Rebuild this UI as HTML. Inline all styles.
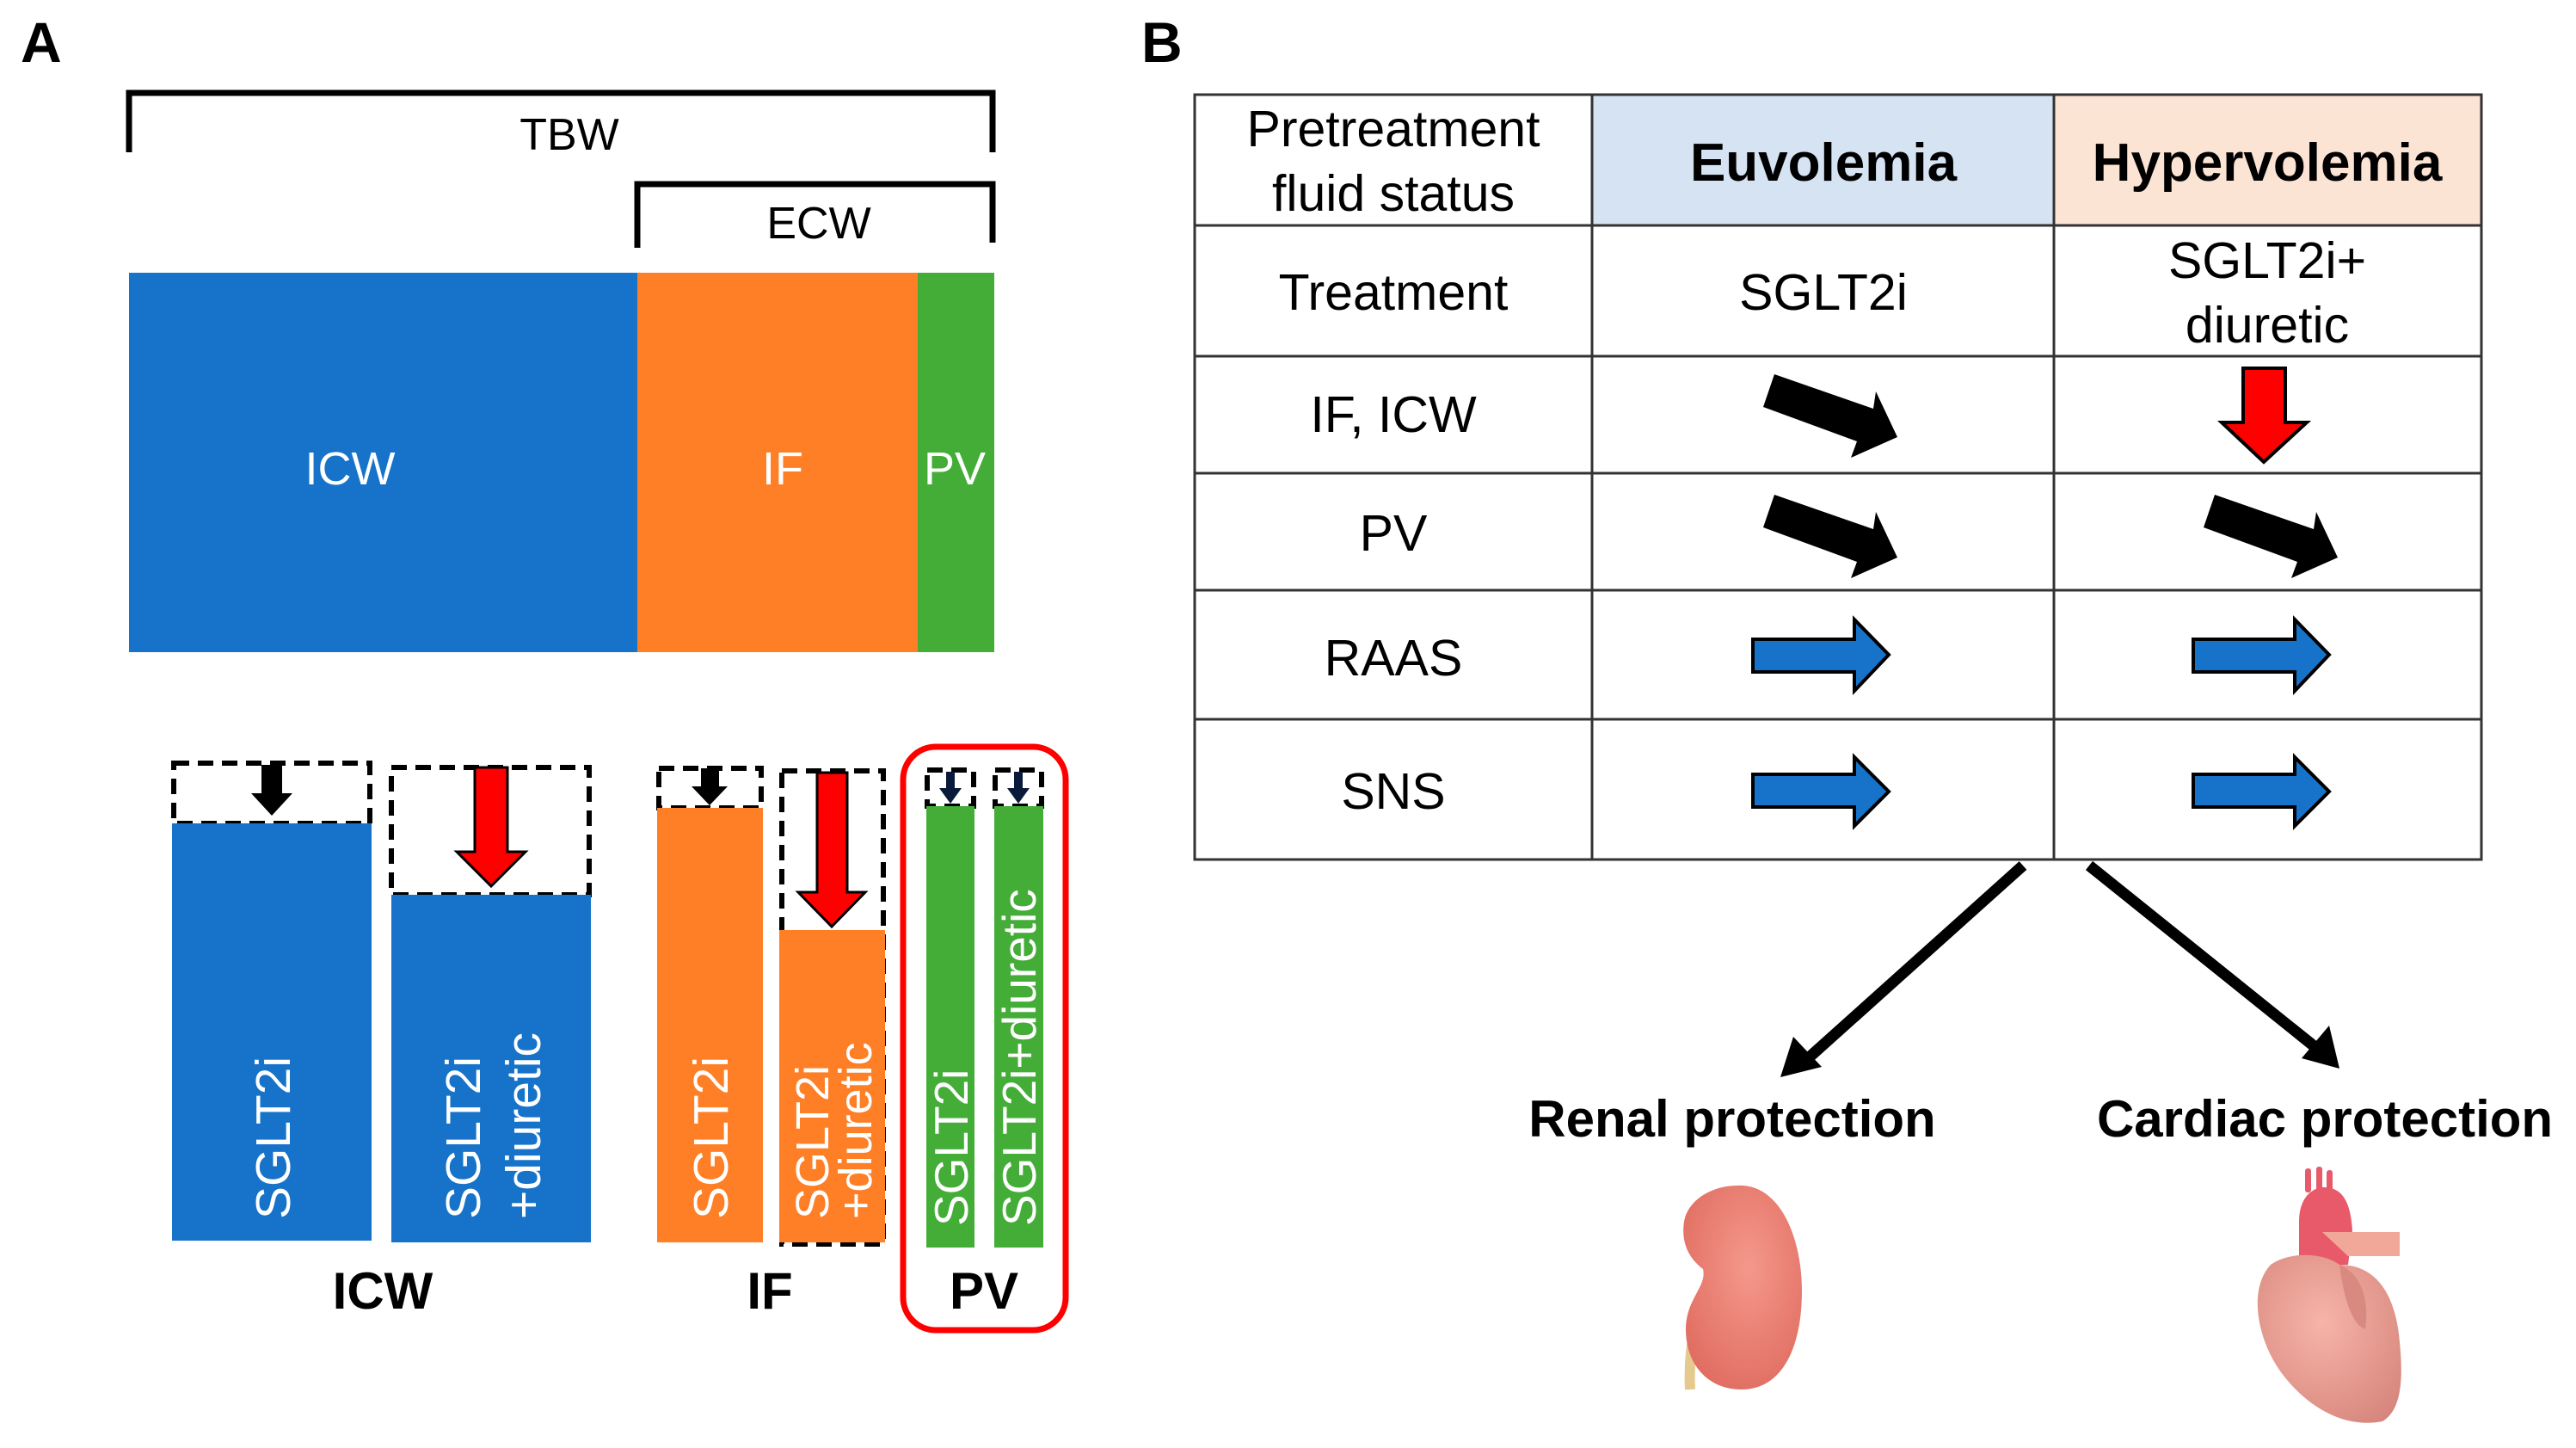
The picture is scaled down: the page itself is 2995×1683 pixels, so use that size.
<!DOCTYPE html>
<html><head><meta charset="utf-8"><style>
html,body{margin:0;padding:0;background:#fff;}
svg{display:block;}
text{font-family:"Liberation Sans",Arial,sans-serif;}
</style></head><body>
<svg width="2995" height="1683" viewBox="0 0 2995 1683" xmlns="http://www.w3.org/2000/svg">
<rect width="2995" height="1683" fill="#fff"/>
<!-- Panel A -->
<text x="24" y="72" font-size="66" font-weight="bold">A</text>
<path d="M150 177 V108 H1154 V177" fill="none" stroke="#000" stroke-width="7"/>
<text x="662" y="174" font-size="52" text-anchor="middle">TBW</text>
<path d="M741 288 V214 H1154 V282" fill="none" stroke="#000" stroke-width="7"/>
<text x="952" y="277" font-size="52" text-anchor="middle">ECW</text>
<rect x="150" y="317" width="591" height="441" fill="#1673c9"/>
<rect x="741" y="317" width="326" height="441" fill="#fe7f26"/>
<rect x="1067" y="317" width="89" height="441" fill="#44ad38"/>
<text x="407" y="563" font-size="54" fill="#fff" text-anchor="middle">ICW</text>
<text x="910" y="563" font-size="54" fill="#fff" text-anchor="middle">IF</text>
<text x="1110" y="563" font-size="54" fill="#fff" text-anchor="middle">PV</text>

<!-- bottom bars -->
<g fill="none" stroke="#000" stroke-width="6" stroke-dasharray="18 10">
<rect x="202" y="887" width="228" height="70"/>
<rect x="455" y="892" width="230" height="148"/>
<rect x="766" y="893" width="119" height="46"/>
<rect x="909" y="896" width="118" height="550"/>
<rect x="1078" y="895" width="54" height="42"/>
<rect x="1157" y="895" width="54" height="42"/>
</g>
<rect x="200" y="957" width="232" height="485" fill="#1673c9"/>
<rect x="455" y="1040" width="232" height="404" fill="#1673c9"/>
<rect x="764" y="939" width="123" height="505" fill="#fe7f26"/>
<rect x="906" y="1081" width="123" height="363" fill="#fe7f26"/>
<rect x="1077" y="937" width="56" height="513" fill="#44ad38"/>
<rect x="1156" y="937" width="57" height="513" fill="#44ad38"/>
<!-- arrows in boxes -->
<polygon points="304,889 328,889 328,922 340,922 316,948 292,922 304,922" fill="#000"/>
<polygon points="552,892 590,892 590,990 611,990 571,1030 531,990 552,990" fill="#f00" stroke="#000" stroke-width="3"/>
<polygon points="815,893 836,893 836,914 846,914 825,936 804,914 815,914" fill="#000"/>
<polygon points="950,898 985,898 985,1037 1006,1037 967,1077 928,1037 950,1037" fill="#f00" stroke="#000" stroke-width="3"/>
<polygon points="1100,897 1110,897 1110,916 1118,916 1105,934 1092,916 1100,916" fill="#0a1a3a"/>
<polygon points="1179,897 1189,897 1189,916 1197,916 1184,934 1171,916 1179,916" fill="#0a1a3a"/>
<!-- vertical labels -->
<g fill="#fff" font-size="57">
<text transform="translate(337,1417) rotate(-90)">SGLT2i</text>
<text transform="translate(558,1417) rotate(-90)">SGLT2i</text>
<text transform="translate(628,1417) rotate(-90)">+diuretic</text>
<text transform="translate(846,1417) rotate(-90)">SGLT2i</text>
<text transform="translate(963,1417) rotate(-90)" font-size="54">SGLT2i</text>
<text transform="translate(1013,1417) rotate(-90)" font-size="54">+diuretic</text>
<text transform="translate(1125,1425) rotate(-90)" font-size="55">SGLT2i</text>
<text transform="translate(1204,1425) rotate(-90)" font-size="55">SGLT2i+diuretic</text>
</g>
<rect x="1050" y="868" width="189" height="678" rx="38" fill="none" stroke="#f00" stroke-width="7"/>
<g font-size="60" font-weight="bold" text-anchor="middle">
<text x="445" y="1521">ICW</text>
<text x="895" y="1521">IF</text>
<text x="1144" y="1521">PV</text>
</g>

<!-- Panel B -->
<text x="1327" y="72" font-size="66" font-weight="bold">B</text>
<rect x="1851" y="110" width="537" height="152" fill="#d6e3f3"/>
<rect x="2388" y="110" width="497" height="152" fill="#fce4d4"/>
<g stroke="#333" stroke-width="3" fill="none">
<rect x="1389" y="110" width="1496" height="889"/>
<line x1="1851" y1="110" x2="1851" y2="999"/>
<line x1="2388" y1="110" x2="2388" y2="999"/>
<line x1="1389" y1="262" x2="2885" y2="262"/>
<line x1="1389" y1="414" x2="2885" y2="414"/>
<line x1="1389" y1="550" x2="2885" y2="550"/>
<line x1="1389" y1="686" x2="2885" y2="686"/>
<line x1="1389" y1="836" x2="2885" y2="836"/>
</g>
<g font-size="59" text-anchor="middle">
<text x="1620" y="170">Pretreatment</text>
<text x="1620" y="245">fluid status</text>
<text x="1620" y="360">Treatment</text>
<text x="2120" y="360">SGLT2i</text>
<text x="2636" y="323">SGLT2i+</text>
<text x="2636" y="398">diuretic</text>
<text x="1620" y="502">IF, ICW</text>
<text x="1620" y="640">PV</text>
<text x="1620" y="785">RAAS</text>
<text x="1620" y="940">SNS</text>
</g>
<g font-size="62" font-weight="bold" text-anchor="middle">
<text x="2120" y="210">Euvolemia</text>
<text x="2636" y="210">Hypervolemia</text>
</g>
<!-- diagonal black arrows -->
<polygon points="2063,435 2178,475 2181,455 2206,508 2152,532 2159,513 2050,473" fill="#000"/>
<polygon points="2063,575 2178,615 2181,595 2206,648 2152,672 2159,653 2050,613" fill="#000"/>
<polygon points="2575,575 2690,615 2693,595 2718,648 2664,672 2671,653 2562,613" fill="#000"/>
<!-- red down -->
<polygon points="2608,428 2657,428 2657,491 2682,491 2632,537 2583,491 2608,491" fill="#f00" stroke="#000" stroke-width="4"/>
<!-- blue right arrows -->
<g fill="#1673c9" stroke="#000" stroke-width="4">
<polygon points="2038,743 2156,743 2156,720 2196,761 2156,803 2156,781 2038,781"/>
<polygon points="2550,743 2668,743 2668,720 2708,761 2668,803 2668,781 2550,781"/>
<polygon points="2038,900 2156,900 2156,880 2196,920 2156,960 2156,938 2038,938"/>
<polygon points="2550,900 2668,900 2668,880 2708,920 2668,960 2668,938 2550,938"/>
</g>
<!-- connectors -->
<line x1="2352" y1="1006" x2="2100" y2="1232" stroke="#000" stroke-width="13"/>
<polygon points="2070,1252 2085,1205 2118,1240" fill="#000"/>
<line x1="2429" y1="1006" x2="2698" y2="1222" stroke="#000" stroke-width="13"/>
<polygon points="2720,1242 2676,1230 2708,1192" fill="#000"/>
<g font-size="60" font-weight="bold" text-anchor="middle">
<text x="2014" y="1321">Renal protection</text>
<text x="2703" y="1321">Cardiac protection</text>
</g>
<defs>
<radialGradient id="kg" cx="0.55" cy="0.4" r="0.7"><stop offset="0" stop-color="#f5988c"/><stop offset="1" stop-color="#df6a5e"/></radialGradient>
<radialGradient id="hg" cx="0.45" cy="0.4" r="0.75"><stop offset="0" stop-color="#f7b4a8"/><stop offset="1" stop-color="#d5847a"/></radialGradient>
</defs>
<!-- kidney -->
<path d="M1990 1485 C1975 1520,1962 1560,1965 1615" stroke="#e6c98e" stroke-width="12" fill="none"/>
<path d="M2020 1378 C2070 1375,2095 1440,2095 1500 C2095 1570,2070 1615,2025 1615 C1985 1615,1960 1585,1960 1545 C1960 1510,1985 1495,1980 1475 C1960 1460,1955 1440,1958 1420 C1962 1395,1990 1378,2020 1378 Z" fill="url(#kg)"/>
<!-- heart -->
<rect x="2680" y="1358" width="7" height="28" rx="3" fill="#e85a6a"/>
<rect x="2693" y="1356" width="7" height="30" rx="3" fill="#e85a6a"/>
<rect x="2705" y="1360" width="7" height="26" rx="3" fill="#e85a6a"/>
<path d="M2673 1470 L2673 1420 C2673 1390,2690 1380,2702 1380 C2725 1380,2733 1400,2735 1430 L2730 1470 Z" fill="#e85a6a"/>
<path d="M2700 1432 L2790 1432 L2790 1460 L2730 1460 Z" fill="#f1a898"/>
<path d="M2640 1470 C2660 1455,2700 1455,2720 1470 C2760 1470,2785 1500,2790 1560 C2795 1610,2790 1640,2770 1652 C2730 1660,2690 1640,2660 1605 C2625 1565,2612 1500,2640 1470 Z" fill="url(#hg)"/>
<path d="M2720 1470 C2745 1480,2755 1510,2750 1545 C2735 1540,2725 1510,2720 1470 Z" fill="#d98a80"/>
</svg>
</body></html>
